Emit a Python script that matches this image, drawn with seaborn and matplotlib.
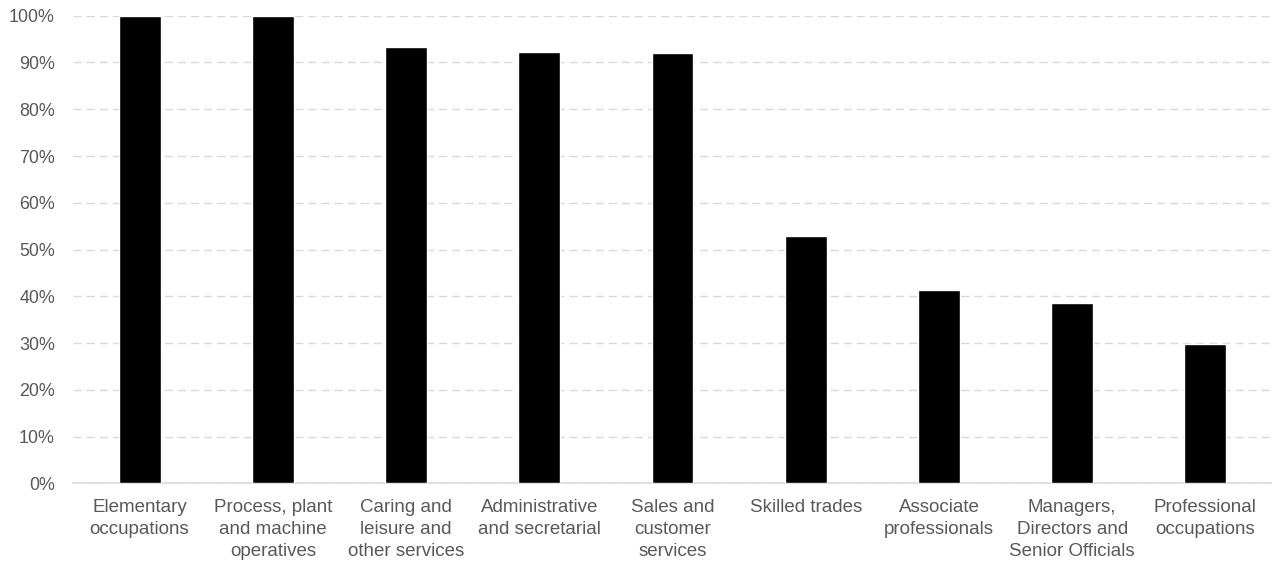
import matplotlib
matplotlib.use("Agg")
import matplotlib.pyplot as plt
from matplotlib.ticker import PercentFormatter
import seaborn as sns
import pandas as pd

categories = [
    "Elementary\noccupations",
    "Process, plant\nand machine\noperatives",
    "Caring and\nleisure and\nother services",
    "Administrative\nand secretarial",
    "Sales and\ncustomer\nservices",
    "Skilled trades",
    "Associate\nprofessionals",
    "Managers,\nDirectors and\nSenior Officials",
    "Professional\noccupations",
]
shares = [100.0, 100.0, 93.4, 92.2, 92.0, 52.9, 41.3, 38.5, 29.8]

df = pd.DataFrame({"occupation": categories, "share": shares})

sns.set_theme(style="white")
plt.rcParams["font.family"] = ["Liberation Sans", "DejaVu Sans"]

text_color = "#595959"
grid_color = "#d9d9d9"

fig = plt.figure(figsize=(12.72, 5.62), dpi=100)
ax = fig.add_axes([0.0574, 0.140, 0.9426, 0.832])

sns.barplot(data=df, x="occupation", y="share", color="black",
            width=0.315, saturation=1, ax=ax, zorder=3)

ax.set_ylim(0, 100)
ax.set_xlim(-0.5, len(categories) - 0.5)
ax.set_yticks(range(0, 101, 10))
ax.yaxis.set_major_formatter(PercentFormatter(decimals=0))

ax.grid(axis="y", color=grid_color, linewidth=1.0,
        linestyle=(0, (5.8, 3.6)), zorder=0)
ax.grid(axis="x", visible=False)

for side in ["top", "right", "left"]:
    ax.spines[side].set_visible(False)
ax.spines["bottom"].set_color(grid_color)
ax.spines["bottom"].set_linewidth(1.2)

ax.tick_params(axis="y", length=0, pad=13, labelsize=12.9, labelcolor=text_color)
ax.tick_params(axis="x", length=0, pad=11.5, labelsize=13.5, labelcolor=text_color)
for lbl in ax.get_xticklabels():
    lbl.set_linespacing(1.37)

ax.set_xlabel("")
ax.set_ylabel("")

fig.savefig("out.png", dpi=100)
